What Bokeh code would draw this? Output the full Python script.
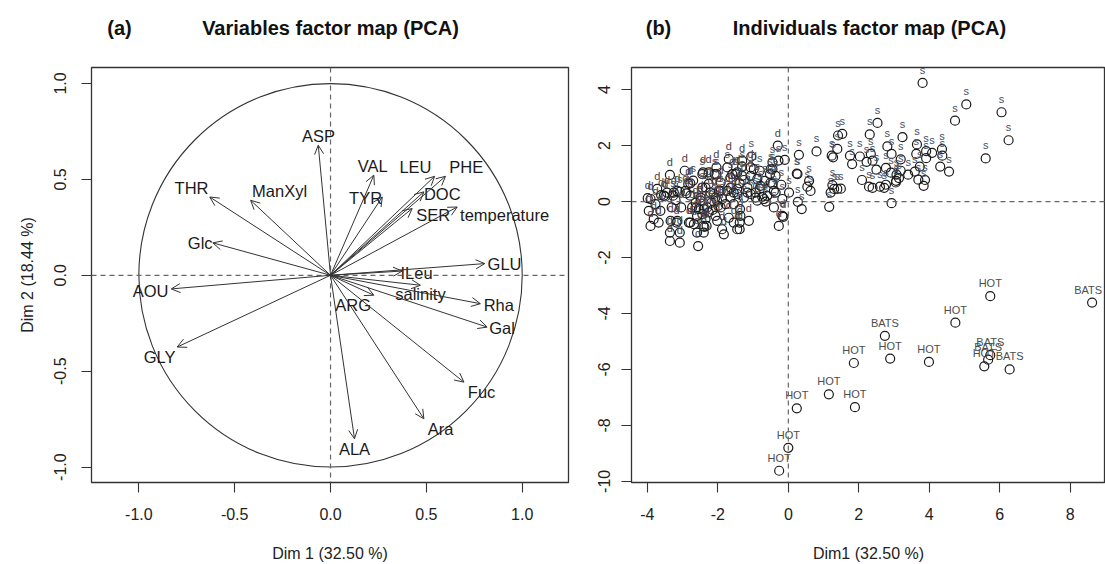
from bokeh.plotting import figure
from bokeh.models import (ColumnDataSource, Arrow, OpenHead, Span, FixedTicker,
                          PrintfTickFormatter, Range1d)
from bokeh.layouts import row, column
from bokeh.embed import file_html
from bokeh.resources import INLINE
from bokeh.core.properties import value

FONT = "Liberation Sans"

# ---------------- Panel (a): variables ----------------
var_names = ["ASP", "VAL", "LEU", "PHE", "DOC", "SER", "temperature", "TYR", "THR", "ManXyl",
             "Glc", "GLU", "ILeu", "AOU", "salinity", "Rha", "Gal", "ARG", "Fuc", "Ara",
             "ALA", "GLY"]
var_dim1 = [-0.064, 0.226, 0.543, 0.600, 0.487, 0.426, 0.661, 0.270, -0.630, -0.417,
            -0.614, 0.805, 0.374, -0.831, 0.469, 0.782, 0.817, 0.226, 0.696, 0.487,
            0.125, -0.800]
var_dim2 = [0.678, 0.522, 0.516, 0.516, 0.435, 0.348, 0.356, 0.408, 0.408, 0.391,
            0.169, 0.061, 0.022, -0.071, -0.052, -0.148, -0.270, -0.104, -0.557, -0.748,
            -0.852, -0.374]
var_lab_x = [-0.063, 0.220, 0.443, 0.708, 0.583, 0.536, 0.908, 0.183, -0.725, -0.266,
             -0.680, 0.908, 0.449, -0.939, 0.469, 0.878, 0.895, 0.118, 0.788, 0.574,
             0.125, -0.892]
var_lab_y = [0.725, 0.570, 0.565, 0.562, 0.426, 0.313, 0.313, 0.403, 0.455, 0.440,
             0.169, 0.057, 0.012, -0.082, -0.096, -0.157, -0.275, -0.157, -0.609, -0.800,
             -0.904, -0.426]
var_xticks = [-1.0, -0.5, 0.0, 0.5, 1.0]
var_yticks = [-1.0, -0.5, 0.0, 0.5, 1.0]

# ---------------- Panel (b): individuals ----------------
ind_x = [
    # s samples (upper right)
    3.81, 5.05, 6.05, 4.73, 6.25, 5.60, 2.53, 2.31, 3.24, 1.53, 3.65, 2.81, 2.93, 3.91, 4.08,
    4.36, 4.37, 3.63, 3.91, 3.19, 1.75, 2.03, 2.34, 2.22, 2.39, 1.81, 2.50, 2.77, 2.91, 3.07,
    3.19, 3.40, 3.59, 3.73, 4.31, 4.56, 2.09, 2.29, 2.39, 2.60, 2.72, 2.77, 3.06, 3.14, 3.69,
    3.88, 3.84, 2.93, 1.49, 1.39, 1.30, 3.05,
    # middle region
    -0.30, 0.30, 0.80, 1.41, 1.23, 0.26, 0.24, 0.59, 0.63, 0.54, 1.20, 1.25, 0.38, 0.27, 1.16,
    -0.17, 0.02, -0.27, -0.17, -0.28, -0.10, -0.45, -0.50, -0.52, -0.45, -0.41, -0.81, -0.79,
    -1.07, -0.93, -0.74, -0.64, -1.26, -1.45, -1.59, -1.55, -1.16, -1.12, -1.36, -1.37, -0.88,
    -0.41, -1.05, -1.31, 1.27, -1.50, -1.31, -0.98, -0.50, 1.39, -1.45, -1.55, -1.38, -1.38,
    -1.26, -1.16, -1.07, -0.93, -0.81, -0.69, -0.88, -0.67, -0.45, -0.36, -0.36, -1.64, -1.38,
    -1.45, -1.31, -1.07, -0.14, -0.60, -0.20,
    # d samples (left cluster)
    -3.36, -3.91, -3.77, -3.96, -3.63, -3.82, -3.91, -3.68, -3.53, -3.44, -3.27, -3.15, -3.31,
    -3.04, -3.34, -3.15, -3.36, -3.36, -3.08, -3.08, -2.56, -2.59, -2.38, -2.78, -2.84, -2.92,
    -2.78, -2.63, -2.49, -2.73, -2.54, -2.44, -2.26, -2.30, -2.35, -2.07, -2.18, -2.02, -1.92,
    -2.44, -2.26, -2.11, -1.92, -1.73, -1.64, -1.78, -2.44, -2.26, -2.04, -2.04, -1.69, -1.64,
    -1.73, -1.92, -2.41, -2.02, -1.88, -1.55, -1.45, -3.99, -3.61, -3.49, -3.25, -3.08, -3.17,
    -2.89, -2.78, -2.82, -2.68, -2.40, -2.32, -2.59, -2.61, -2.49, -2.40, -2.35, -2.21, -2.07,
    -1.97, -1.88, -1.99, -1.83, -1.69, -2.94, -2.09, -2.42, -3.72, -3.20, -2.70, -2.15,
    # HOT / BATS stations
    5.73, 8.62, 4.74, 2.74, 2.89, 1.86, 3.99, 5.73, 5.67, 5.56, 6.28, 1.15, 1.89, 0.24, 0.00,
    -0.26,
]
ind_y = [
    4.24, 3.47, 3.19, 2.89, 2.19, 1.54, 2.81, 2.40, 2.30, 2.42, 2.04, 1.97, 1.70, 1.80, 1.74,
    1.87, 1.64, 1.70, 1.55, 1.51, 1.64, 1.61, 1.70, 1.42, 1.46, 1.34, 1.14, 1.20, 1.03, 0.96,
    1.10, 0.96, 1.07, 1.25, 1.25, 1.07, 0.77, 0.53, 0.49, 0.53, 0.49, 0.60, 0.74, 0.84, 0.78,
    0.77, 0.56, -0.06, 0.46, 1.88, 0.45, 0.68,
    2.00, 1.67, 1.79, 2.36, 1.64, 0.98, 1.00, 0.74, 0.38, 0.53, 0.32, 0.59, -0.27, -0.01, -0.19,
    0.09, 0.32, -0.87, -0.51, 1.46, 1.49, 1.40, 0.68, 0.98, 1.16, 0.38, 1.10, 0.56,
    0.92, 0.32, 0.17, 0.00, 0.77, 0.45, 0.98, 0.32, 0.32, -0.69, -0.51, -0.27, 0.03,
    -0.21, 1.61, 1.46, 1.58, 0.98, 0.92, 1.16, 1.16, 0.45, 0.27, -0.09, -0.99, -0.75,
    0.14, 0.50, 0.27, 0.14, 0.45, 0.09, 0.81, 0.74, 0.63, 0.32, 0.92, 0.50, 0.65,
    1.04, 1.25, 1.22, -0.55, 0.20, 0.60,
    0.95, 0.09, -0.09, -0.33, -0.33, -0.63, -0.87, -0.75, 0.21, 0.32, 0.21, 0.38, -0.21,
    -0.21, -0.69, -0.69, -1.11, -1.41, -1.11, -1.47, -1.59, -1.11, -0.91, -0.75, 0.63, 0.38,
    0.21, -0.04, 0.14, -0.21, -0.27, -0.45, -0.39, -0.21, -0.63, -0.51, -0.04, 0.03, -0.21,
    0.50, 0.63, 0.27, 0.38, 0.38, 0.14, -0.09, 0.98, 1.04, 0.98, 1.22, 1.52, 0.86,
    1.22, 0.68, -0.87, -0.69, -0.99, -0.75, -0.99, 0.12, 0.23, 0.18, 0.32, 0.35, -0.75,
    0.29, 0.65, -0.75, -0.81, -1.11, -0.87, -0.51, -0.21, 0.03, -0.27, 0.50, 0.32, 0.14,
    0.38, 0.09, -0.15, -1.17, -0.58, 1.10, 0.98, 1.04, 0.45, 0.05, 0.75, -0.30,
    -3.38, -3.61, -4.33, -4.80, -5.61, -5.77, -5.73, -5.49, -5.65, -5.89, -6.00, -6.89, -7.35,
    -7.39, -8.80, -9.62,
]
ind_lab = (
    ["s"] * 52
    + ["d", "s", "s", "s", "s", "s", "s", "s", "s", "s", "s", "s", "s", "s", "s",
       "s", "s", "d", "d", "s", "s", "s", "s", "s", "s", "s", "s", "s",
       "d", "s", "s", "s", "d", "d", "d", "s", "d", "d", "d", "d", "d",
       "s", "s", "d", "s", "d", "s", "d", "s", "s", "d", "d", "d", "d",
       "s", "s", "s", "d", "s", "s", "s", "s", "s", "s", "s", "d", "s",
       "d", "s", "d", "d", "d", "s"]
    + ["d", "d", "d", "d", "d", "d", "d", "d", "d", "d", "s", "d", "d",
       "d", "d", "d", "d", "d", "d", "d", "d", "d", "d", "d", "d", "d",
       "d", "d", "d", "d", "d", "d", "d", "d", "d", "d", "s", "d", "d",
       "s", "d", "d", "s", "d", "d", "d", "s", "d", "s", "d", "d", "s",
       "s", "d", "d", "d", "d", "d", "d", "d", "d", "d", "d", "s", "d",
       "d", "d", "d", "d", "d", "d", "d", "d", "d", "d", "d", "d", "s",
       "d", "d", "d", "d", "d", "d", "s", "d", "d", "d", "s", "d"]
    + ["HOT", "BATS", "HOT", "BATS", "HOT", "HOT", "HOT", "BATS", "BATS", "HOT", "BATS",
       "HOT", "HOT", "HOT", "HOT", "HOT"]
)
ind_xticks = [-4, -2, 0, 2, 4, 6, 8]
ind_yticks = [-10, -8, -6, -4, -2, 0, 2, 4]

# titles
title_texts = ["(a)", "Variables factor map (PCA)", "(b)", "Individuals factor map (PCA)"]

n = min(len(ind_x), len(ind_y), len(ind_lab))
ind_x, ind_y, ind_lab = ind_x[:n], ind_y[:n], ind_lab[:n]

LAB_COLORS = {"s": "#465066", "d": "#4a4048", "HOT": "#4d4d4d", "BATS": "#4d4d4d"}


def style(p, xticks, yticks, fmt, xlabel, ylabel):
    p.outline_line_color = "#333333"
    p.outline_line_width = 1.3
    p.xgrid.visible = False
    p.ygrid.visible = False
    for ax in (p.xaxis[0], p.yaxis[0]):
        ax.axis_line_color = None
        ax.major_tick_in = 0
        ax.major_tick_out = 10
        ax.major_tick_line_color = "#333333"
        ax.major_tick_line_width = 1.1
        ax.minor_tick_line_color = None
        ax.major_label_text_font = FONT
        ax.major_label_text_font_size = "16px"
        ax.major_label_text_color = "#222222"
        ax.formatter = PrintfTickFormatter(format=fmt)
        ax.axis_label_text_font = FONT
        ax.axis_label_text_font_size = "16px"
        ax.axis_label_text_font_style = "normal"
        ax.axis_label_text_color = "#222222"
    p.xaxis.ticker = FixedTicker(ticks=xticks)
    p.yaxis.ticker = FixedTicker(ticks=yticks)
    p.xaxis.major_label_standoff = 15
    p.xaxis.axis_label_standoff = 22
    p.yaxis.major_label_orientation = "parallel"
    p.xaxis.axis_label = xlabel
    if ylabel:
        p.yaxis.axis_label = ylabel
    for dim in ("width", "height"):
        p.add_layout(Span(location=0, dimension=dim, line_dash="5 4",
                          line_color="#666666", line_width=1.2))


# ---- title strip
tf = figure(width=1105, height=40, output_backend="svg", toolbar_location=None,
            x_range=Range1d(0, 1105), y_range=Range1d(40, 0),
            x_axis_type=None, y_axis_type=None, min_border=0)
tf.outline_line_color = None
tf.xgrid.visible = False
tf.ygrid.visible = False
tsrc = ColumnDataSource(dict(x=[119, 330, 658, 869], y=[27, 27, 27, 27], t=title_texts))
tf.text(x="x", y="y", text="t", source=tsrc, text_font=value(FONT), text_font_size="20px",
        text_font_style="bold", text_align="center", text_baseline="middle",
        text_color="#111111")

# ---- left figure
p1 = figure(width=590, height=524, output_backend="svg", toolbar_location=None,
            x_range=Range1d(-1.247, 1.2415), y_range=Range1d(-1.08, 1.083),
            min_border_left=91, min_border_right=22, min_border_top=27, min_border_bottom=82)
style(p1, var_xticks, var_yticks, "%.1f", "Dim 1 (32.50 %)", "Dim 2 (18.44 %)")
p1.yaxis.major_label_standoff = 15
p1.yaxis.axis_label_standoff = 16

p1.circle(x=[0], y=[0], radius=1, fill_color=None, line_color="#333333", line_width=1.1)

vsrc = ColumnDataSource(dict(x0=[0.0] * len(var_dim1), y0=[0.0] * len(var_dim2),
                             x1=var_dim1, y1=var_dim2, lx=var_lab_x, ly=var_lab_y,
                             name=var_names))
p1.add_layout(Arrow(end=OpenHead(size=9, line_color="#333333", line_width=1),
                    x_start="x0", y_start="y0", x_end="x1", y_end="y1",
                    line_color="#333333", line_width=1, source=vsrc))
p1.text(x="lx", y="ly", text="name", source=vsrc, text_font=value(FONT),
        text_font_size="16.5px", text_align="center", text_baseline="middle",
        text_color="#1a1a1a")

# ---- right figure
p2 = figure(width=515, height=524, output_backend="svg", toolbar_location=None,
            x_range=Range1d(-4.45, 9.0), y_range=Range1d(-10.04, 4.79),
            min_border_left=41, min_border_right=0, min_border_top=27, min_border_bottom=82)
style(p2, ind_xticks, ind_yticks, "%d", "Dim1 (32.50 %)", None)
p2.yaxis.major_label_standoff = 11

xoff = [-4 if (lab == "BATS" and x > 8) else 0 for x, lab in zip(ind_x, ind_lab)]
isrc = ColumnDataSource(dict(x=ind_x, y=ind_y, lab=ind_lab, xoff=xoff,
                             col=[LAB_COLORS[l] for l in ind_lab]))
p2.scatter(x="x", y="y", source=isrc, marker="circle", size=9, fill_color=None,
           line_color="#1a1a1a", line_width=1.2)
p2.text(x="x", y="y", text="lab", source=isrc, text_font=value(FONT), text_font_size="11px",
        text_align="center", text_baseline="middle", text_color="col", y_offset=-13,
        x_offset="xoff")

layout = column(tf, row(p1, p2, spacing=0), spacing=0)
open("out.html", "w").write(file_html(layout, INLINE))
